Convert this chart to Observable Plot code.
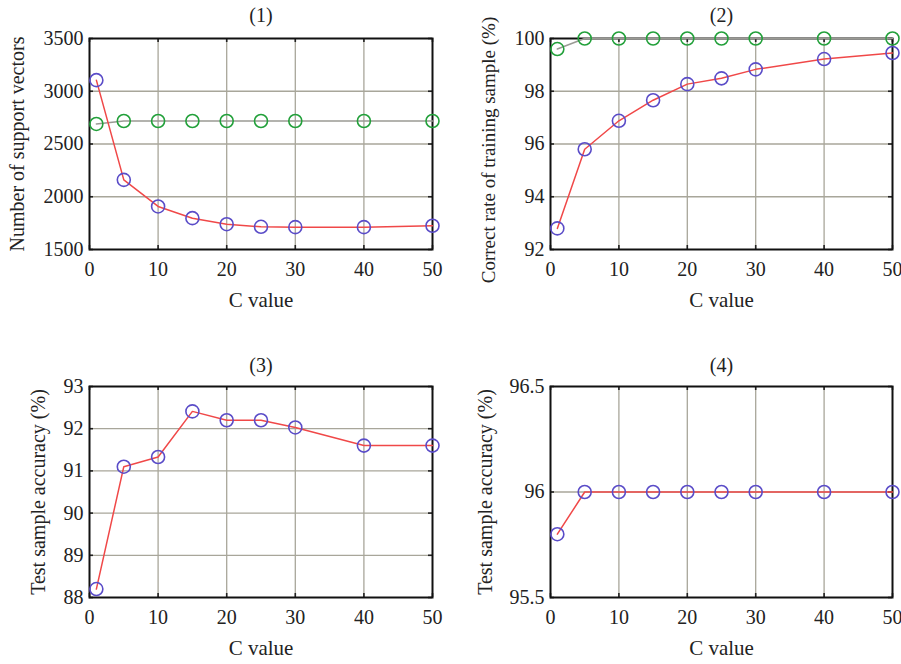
<!DOCTYPE html>
<html>
<head>
<meta charset="utf-8">
<script src="https://cdn.jsdelivr.net/npm/d3@7"></script>
<script src="https://cdn.jsdelivr.net/npm/@observablehq/plot@0.6"></script>
<style>
  html, body { margin: 0; padding: 0; background: #fff; }
  #wrap { position: relative; width: 901px; height: 664px; background: #fff; overflow: hidden; }
  #wrap > div { position: absolute; }
  svg { overflow: visible; }
</style>
</head>
<body>
<div id="wrap">
  <div id="p1" style="left:0px;top:0px"></div>
  <div id="p2" style="left:450px;top:0px"></div>
  <div id="p3" style="left:0px;top:332px"></div>
  <div id="p4" style="left:450px;top:332px"></div>
</div>
<script>
// ---- data ----
const cValues = [1, 5, 10, 15, 20, 25, 30, 40, 50];
const xTicks = [0, 10, 20, 30, 40, 50];

const supportRed   = [3105, 2160, 1908, 1797, 1740, 1715, 1712, 1712, 1725];
const supportGreen = [2690, 2718, 2718, 2718, 2718, 2718, 2718, 2718, 2718];
const supportTicks = [1500, 2000, 2500, 3000, 3500];

const trainRed   = [92.8, 95.8, 96.88, 97.66, 98.27, 98.49, 98.83, 99.22, 99.45];
const trainGreen = [99.6, 100, 100, 100, 100, 100, 100, 100, 100];
const trainTicks = [92, 94, 96, 98, 100];

const test3Red   = [88.2, 91.1, 91.33, 92.41, 92.2, 92.2, 92.03, 91.6, 91.6];
const test3Ticks = [88, 89, 90, 91, 92, 93];

const test4Red   = [95.8, 96, 96, 96, 96, 96, 96, 96, 96];
const test4Ticks = [95.5, 96, 96.5];

const titles = ["(1)", "(2)", "(3)", "(4)"];
const yLabels = [
  "Number of support vectors",
  "Correct rate of training sample (%)",
  "Test sample accuracy (%)",
  "Test sample accuracy (%)"
];
const xLabel = "C value";

// ---- styles ----
const FONT = "'Liberation Serif', 'DejaVu Serif', serif";
const RED = "#f04848", PURPLE = "#5a4cc8", GREEN = "#22a03a", LINKGRAY = "#9a9a94", GRID = "#a8a69a";

function rows(ys) { return cValues.map((c, i) => ({c, v: ys[i]})); }

function panel({el, width, height, ml, mr, mt, mb, yDomain, yTicks, yFormat, red, green, title, yLabel, yLabelDx, yLabelDy = 0, yLabelSize = 20, titleDy}) {
  const iw = width - ml - mr;
  const ih = height - mt - mb;
  const marks = [
    Plot.gridX(xTicks.slice(1, -1), {stroke: GRID, strokeOpacity: 1, strokeWidth: 1.3}),
    Plot.gridY(yTicks.slice(1, -1), {stroke: GRID, strokeOpacity: 1, strokeWidth: 1.3}),
    // inward tick nubs
    Plot.tickY(yTicks, {y: d => d, stroke: "#222", strokeWidth: 1.6, insetRight: iw - 4}),
    Plot.tickY(yTicks, {y: d => d, stroke: "#222", strokeWidth: 1.6, insetLeft: iw - 4}),
    Plot.tickX(xTicks, {x: d => d, stroke: "#222", strokeWidth: 1.6, insetTop: ih - 4}),
    Plot.tickX(xTicks, {x: d => d, stroke: "#222", strokeWidth: 1.6, insetBottom: ih - 4}),
    Plot.frame({stroke: "#111", strokeWidth: 2}),
    Plot.axisX(xTicks, {tickSize: 0, tickPadding: 12, fontSize: 20, fontFamily: FONT, label: null, fill: "#222"}),
    Plot.axisY(yTicks, {tickSize: 0, tickPadding: 6, fontSize: 20, fontFamily: FONT, label: null, tickFormat: yFormat, fill: "#222"}),
  ];
  if (green) {
    marks.push(Plot.line(rows(green), {x: "c", y: "v", stroke: LINKGRAY, strokeWidth: 1.5}));
  }
  marks.push(Plot.line(rows(red), {x: "c", y: "v", stroke: RED, strokeWidth: 1.5}));
  if (green) {
    marks.push(Plot.dot(rows(green), {x: "c", y: "v", r: 6.5, stroke: GREEN, strokeWidth: 1.6, fill: "none"}));
  }
  marks.push(Plot.dot(rows(red), {x: "c", y: "v", r: 6.5, stroke: PURPLE, strokeWidth: 1.6, fill: "none"}));
  marks.push(Plot.text([title], {frameAnchor: "top", lineAnchor: "middle", textAnchor: "middle", dy: titleDy, fontSize: 20, fontFamily: FONT, fill: "#222"}));
  marks.push(Plot.text([xLabel], {frameAnchor: "bottom", lineAnchor: "middle", textAnchor: "middle", dy: 51, fontSize: 21, fontFamily: FONT, fill: "#222"}));
  marks.push(Plot.text([yLabel], {frameAnchor: "left", lineAnchor: "middle", textAnchor: "middle", dx: yLabelDx, dy: yLabelDy, rotate: -90, fontSize: yLabelSize, fontFamily: FONT, fill: "#222"}));

  const chart = Plot.plot({
    width, height,
    marginLeft: ml, marginRight: mr, marginTop: mt, marginBottom: mb,
    style: {background: "transparent", fontFamily: FONT, overflow: "visible"},
    x: {domain: [0, 50]},
    y: {domain: yDomain},
    marks
  });
  document.getElementById(el).appendChild(chart);
}

const fmt = d => String(d);

panel({el: "p1", width: 450, height: 332, ml: 89, mr: 18, mt: 38, mb: 83,
  yDomain: [1500, 3500], yTicks: supportTicks, yFormat: fmt,
  red: supportRed, green: supportGreen, title: titles[0], yLabel: yLabels[0], yLabelDx: -72, titleDy: -23});
panel({el: "p2", width: 451, height: 332, ml: 100, mr: 9, mt: 38, mb: 83,
  yDomain: [92, 100], yTicks: trainTicks, yFormat: fmt,
  red: trainRed, green: trainGreen, title: titles[1], yLabel: yLabels[1], yLabelDx: -62, yLabelDy: 6, yLabelSize: 19, titleDy: -23});
panel({el: "p3", width: 450, height: 332, ml: 89, mr: 18, mt: 54, mb: 67,
  yDomain: [88, 93], yTicks: test3Ticks, yFormat: fmt,
  red: test3Red, green: null, title: titles[2], yLabel: yLabels[2], yLabelDx: -51, titleDy: -21});
panel({el: "p4", width: 451, height: 332, ml: 100, mr: 9, mt: 54, mb: 67,
  yDomain: [95.5, 96.5], yTicks: test4Ticks, yFormat: fmt,
  red: test4Red, green: null, title: titles[3], yLabel: yLabels[3], yLabelDx: -65, titleDy: -21});
</script>
</body>
</html>
